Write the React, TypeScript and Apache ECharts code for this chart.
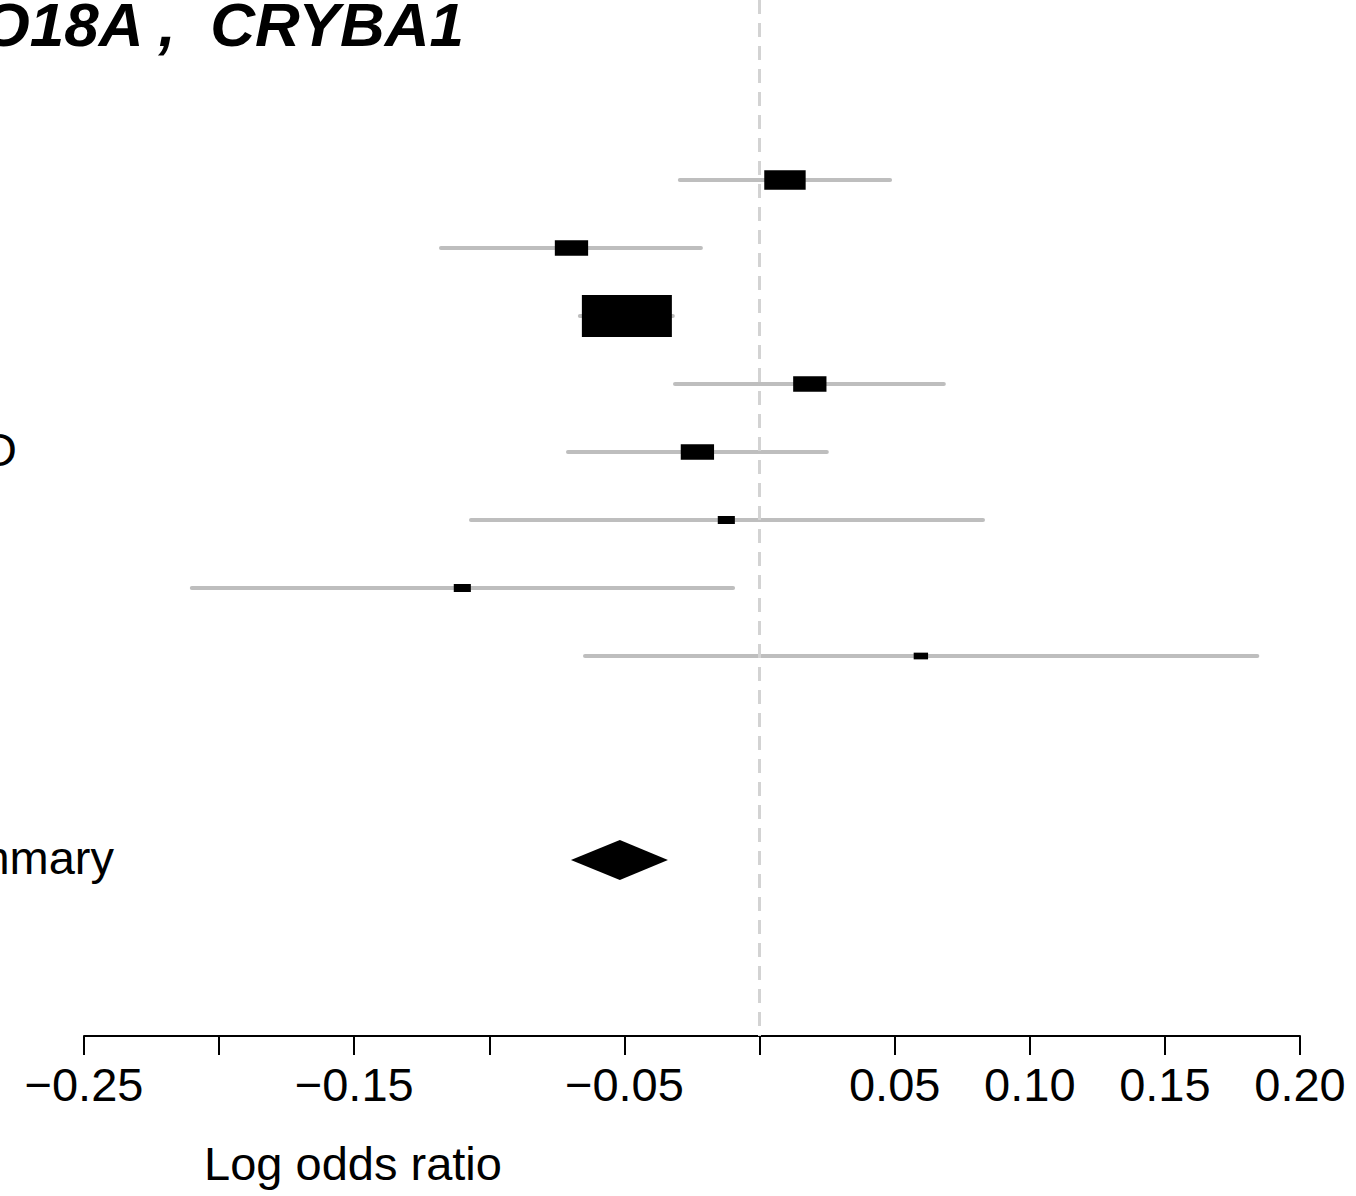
import React, { useEffect, useRef } from "react";
import * as echarts from "echarts";

// Study rows (top to bottom)
const rows = [1, 2, 3, 4, 5, 6, 7, 8];
const estimates = [0.0094, -0.0696, -0.0491, 0.0186, -0.023, -0.0123, -0.11, 0.0597];
const lower = [-0.0295, -0.1179, -0.0665, -0.0313, -0.0709, -0.1068, -0.2101, -0.0646];
const upper = [0.0483, -0.0217, -0.0321, 0.0682, 0.0249, 0.0827, -0.0098, 0.1842];
const weights = [0.46, 0.37, 1.0, 0.37, 0.37, 0.19, 0.19, 0.16];

// Summary estimate
const summaryRow = 11;
const summaryEst = -0.0517;
const summaryLower = -0.0698;
const summaryUpper = -0.0339;

// Axis ticks
const xMin = -0.25;
const xMax = 0.2;
const xInterval = 0.05;
const hiddenTicks = [-0.2, -0.1, 0];

const titleText = "O18A ,  CRYBA1";
const axisTitle = "Log odds ratio";
const visibleLabels = [
  { text: "D", row: 5 },
  { text: "Summary", row: summaryRow },
];

const FONT = "'Liberation Sans', Arial, Helvetica, sans-serif";

export default function App() {
  const ref = useRef<HTMLDivElement>(null);

  useEffect(() => {
    document.body.style.margin = "0";
    if (!ref.current) return;
    const chart = echarts.init(ref.current, undefined, { renderer: "svg" });

    const yMin = -1.647;
    const yMax = 13.588;

    const fmt = (v: number) => {
      const r = Math.round(v * 100) / 100;
      if (hiddenTicks.some((h) => Math.abs(h - r) < 1e-9)) return "";
      return r < 0 ? "\u2212" + Math.abs(r).toFixed(2) : r.toFixed(2);
    };

    const option: any = {
      animation: false,
      backgroundColor: "#ffffff",
      grid: { left: 84, right: 56, top: 0, bottom: 160, containLabel: false, outerBoundsMode: "none" },
      xAxis: {
        type: "value",
        min: xMin,
        max: xMax,
        interval: xInterval,
        position: "bottom",
        axisLine: { show: true, onZero: false, lineStyle: { color: "#000", width: 2 } },
        axisTick: { show: true, length: 19, lineStyle: { color: "#000", width: 2 } },
        axisLabel: {
          show: true,
          margin: 25,
          fontSize: 47,
          color: "#000",
          fontFamily: FONT,
          formatter: fmt,
        },
        splitLine: { show: false },
      },
      yAxis: {
        type: "value",
        min: yMin,
        max: yMax,
        inverse: true,
        show: false,
        splitLine: { show: false },
      },
      graphic: [
        {
          type: "text",
          x: 464,
          y: 24,
          style: {
            text: titleText,
            font: `italic bold 62px ${FONT}`,
            fill: "#000",
            align: "right",
            verticalAlign: "middle",
          },
        },
        {
          type: "text",
          x: 353,
          y: 1163,
          style: {
            text: axisTitle,
            font: `47px ${FONT}`,
            fill: "#000",
            align: "center",
            verticalAlign: "middle",
          },
        },
      ],
      series: [
        {
          type: "custom",
          name: "ci",
          z: 2,
          encode: { x: [1, 2], y: 0 },
          data: rows.map((r, i) => [r, lower[i], upper[i]]),
          renderItem: (params: any, api: any) => {
            const a = api.coord([api.value(1), api.value(0)]);
            const b = api.coord([api.value(2), api.value(0)]);
            return {
              type: "line",
              shape: { x1: a[0], y1: a[1], x2: b[0], y2: b[1] },
              style: { stroke: "#bebebe", lineWidth: 4, lineCap: "round" },
            };
          },
          markLine: {
            silent: true,
            symbol: "none",
            label: { show: false },
            lineStyle: { color: "#d3d3d3", type: [14, 9], width: 3 },
            data: [{ xAxis: 0 }],
            z: 3,
          },
        },
        {
          type: "custom",
          name: "boxes",
          z: 4,
          encode: { x: 1, y: 0 },
          data: rows.map((r, i) => [r, estimates[i], weights[i]]),
          renderItem: (params: any, api: any) => {
            const c = api.coord([api.value(1), api.value(0)]);
            const w = api.value(2) * 90;
            const h = api.value(2) * 42;
            return {
              type: "rect",
              shape: { x: c[0] - w / 2, y: c[1] - h / 2, width: w, height: h },
              style: { fill: "#000" },
            };
          },
        },
        {
          type: "custom",
          name: "summary",
          z: 4,
          encode: { x: [1, 2, 3], y: 0 },
          data: [[summaryRow, summaryLower, summaryEst, summaryUpper]],
          renderItem: (params: any, api: any) => {
            const row = api.value(0);
            const l = api.coord([api.value(1), row]);
            const e = api.coord([api.value(2), row]);
            const u = api.coord([api.value(3), row]);
            const half = api.coord([0, row + 0.294])[1] - e[1];
            return {
              type: "polygon",
              shape: {
                points: [
                  [l[0], l[1]],
                  [e[0], e[1] - half],
                  [u[0], u[1]],
                  [e[0], e[1] + half],
                ],
              },
              style: { fill: "#000" },
            };
          },
        },
        {
          type: "custom",
          name: "labels",
          z: 5,
          encode: { y: 0 },
          data: visibleLabels.map((l) => [l.row, l.text]),
          renderItem: (params: any, api: any) => {
            const row = api.value(0);
            const text = visibleLabels[params.dataIndex].text;
            const p = api.coord([xMin, row]);
            const rightEdge = text === "D" ? 17 : 114;
            return {
              type: "text",
              x: rightEdge,
              y: p[1] - 3,
              style: {
                text,
                font: `47px ${FONT}`,
                fill: "#000",
                align: "right",
                verticalAlign: "middle",
              },
            };
          },
          clip: false,
        },
      ],
    };

    chart.setOption(option);
    return () => chart.dispose();
  }, []);

  return (
    <div
      ref={ref}
      style={{ position: "absolute", left: 0, top: 0, width: 1356, height: 1196 }}
    />
  );
}
